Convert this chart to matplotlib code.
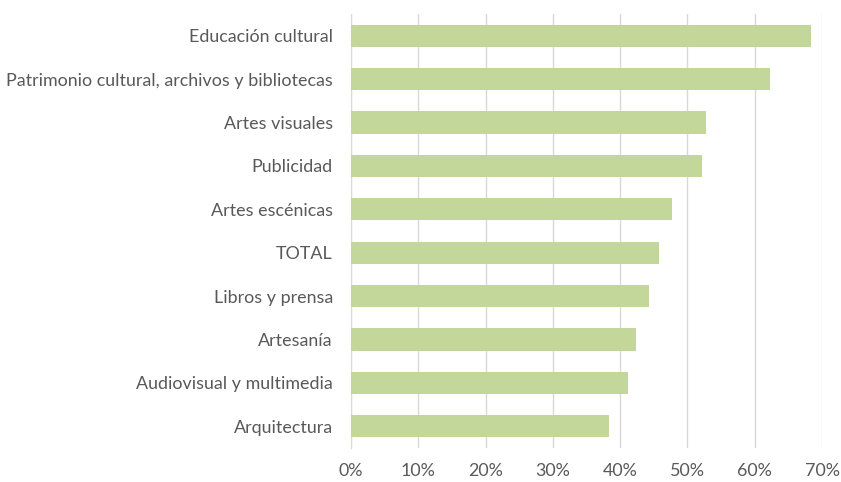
import matplotlib
matplotlib.use("Agg")
import matplotlib.pyplot as plt
from matplotlib.ticker import FuncFormatter

categories = ["Educación cultural", "Patrimonio cultural, archivos y bibliotecas",
              "Artes visuales", "Publicidad", "Artes escénicas", "TOTAL",
              "Libros y prensa", "Artesanía", "Audiovisual y multimedia", "Arquitectura"]
values = [68.4, 62.2, 52.7, 52.1, 47.7, 45.8, 44.3, 42.4, 41.2, 38.4]
xticks = [0, 10, 20, 30, 40, 50, 60, 70]

plt.rcParams['font.family'] = ['Lato', 'DejaVu Sans']
fig = plt.figure(figsize=(8.41, 4.82), dpi=100)
ax = fig.add_axes([351/841, 1-448/482, (822-351)/841, (448-14)/482])

ypos = list(range(len(categories)))[::-1]
ax.barh(ypos, values, height=0.51, color="#C4D79B", zorder=3)
ax.set_ylim(-0.5, len(categories)-0.5)
ax.set_xlim(0, 70)
ax.set_xticks(xticks)
ax.xaxis.set_major_formatter(FuncFormatter(lambda v, p: f"{int(v)}%"))
ax.set_yticks(ypos)
ax.set_yticklabels(categories)
ax.grid(axis='x', color="#D9D9D9", linewidth=1, zorder=0)
for s in ["top", "right", "bottom"]:
    ax.spines[s].set_visible(False)
ax.spines["left"].set_color("#D9D9D9")
ax.tick_params(axis='both', length=0, labelsize=12.9, colors="#595959")
ax.tick_params(axis='y', pad=13)
ax.tick_params(axis='x', pad=11)
fig.savefig("out.png", dpi=100)
